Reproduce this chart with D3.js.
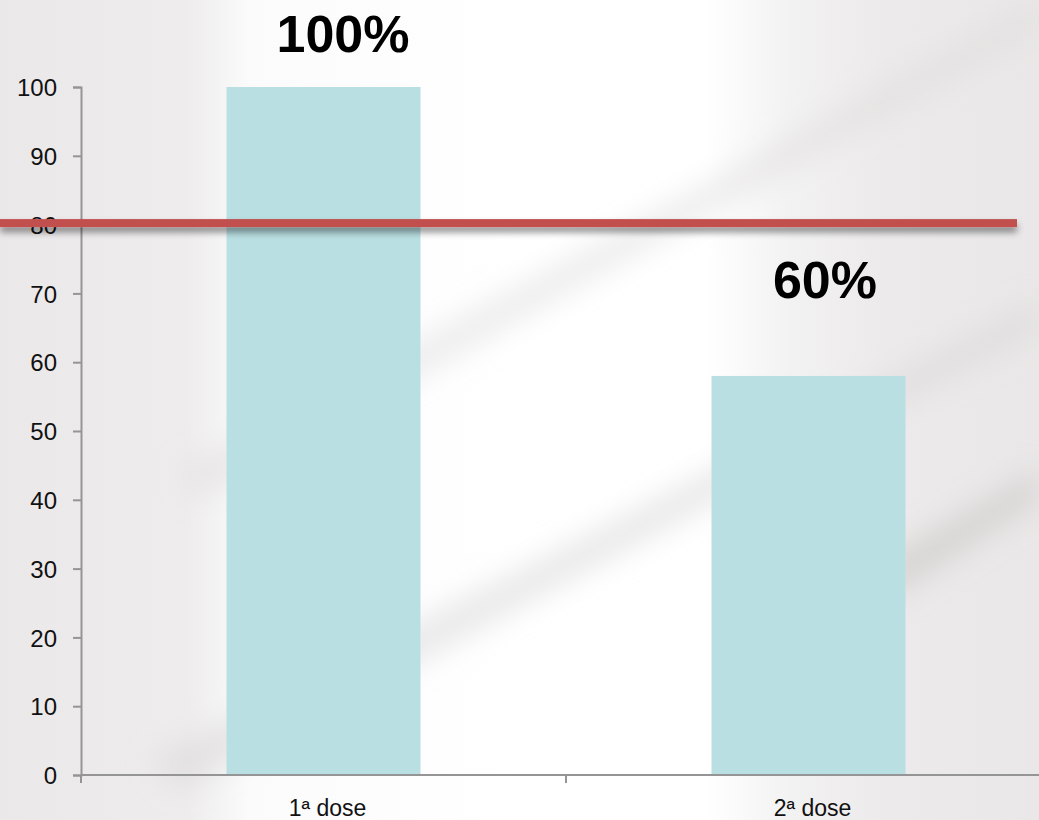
<!DOCTYPE html>
<html><head><meta charset="utf-8">
<script src="https://cdn.jsdelivr.net/npm/d3@7"></script>
<style>html,body{margin:0;padding:0;overflow:hidden;}svg{display:block;}</style>
</head><body>
<svg id="chart" width="1039" height="820"></svg>
<script>
const categories = ["1ª dose", "2ª dose"];
const values = [100, 58];
const valueLabels = ["100%", "60%"];
const yTicks = [0, 10, 20, 30, 40, 50, 60, 70, 80, 90, 100];
const targetValue = 80;

const W = 1039, H = 820;
const svg = d3.select("#chart");
const defs = svg.append("defs");
const FONT = "Liberation Sans, Arial, sans-serif";

// background
const bg = defs.append("linearGradient").attr("id", "bg").attr("x1", 0).attr("x2", 1).attr("y1", 0).attr("y2", 0);
[[0, "#ebe8e9"], [0.18, "#eeeced"], [0.24, "#fbfbfb"], [0.5, "#ffffff"], [0.68, "#ffffff"], [0.76, "#f3f2f2"], [0.85, "#eceaea"], [1, "#e9e7e7"]]
  .forEach(([o, c]) => bg.append("stop").attr("offset", o).attr("stop-color", c));
svg.append("rect").attr("width", W).attr("height", H).attr("fill", "url(#bg)");

const blur = defs.append("filter").attr("id", "blur").attr("x", "-20%").attr("y", "-20%").attr("width", "140%").attr("height", "140%");
blur.append("feGaussianBlur").attr("stdDeviation", 14);
const streaks = svg.append("g").attr("filter", "url(#blur)");
streaks.append("path").attr("d", "M150,760 L1039,300 L1039,330 L180,790 Z").attr("fill", "#d8d5d5").attr("opacity", 0.5);
streaks.append("path").attr("d", "M180,470 L1039,0 L1039,30 L200,500 Z").attr("fill", "#dcdada").attr("opacity", 0.45);
streaks.append("path").attr("d", "M880,560 L1039,470 L1039,500 L890,600 Z").attr("fill", "#c9c6c6").attr("opacity", 0.6);

const y = d3.scaleLinear().domain([0, 100]).range([775, 87]);
const x = d3.scaleBand().domain(categories).range([81, 1051]).paddingInner(0.6).paddingOuter(0.3);

// bars
svg.append("g").selectAll("rect").data(categories).join("rect")
  .attr("x", d => x(d))
  .attr("y", (d, i) => y(values[i]))
  .attr("width", x.bandwidth())
  .attr("height", (d, i) => y(0) - y(values[i]))
  .attr("fill", "#b9dfe2");

// y axis
const yAxis = svg.append("g").attr("transform", "translate(81,0)")
  .call(d3.axisLeft(y).tickValues(yTicks).tickSize(8).tickPadding(16));
yAxis.select(".domain").attr("stroke", "#959595").attr("stroke-width", 2);
yAxis.selectAll(".tick line").attr("stroke", "#959595").attr("stroke-width", 2);
yAxis.selectAll("text").attr("font-family", FONT).attr("font-size", 24).attr("fill", "#111").attr("dy", "0.36em");

// x axis
const xAxisG = svg.append("g").attr("transform", "translate(0,775)");
xAxisG.append("line").attr("x1", 81).attr("x2", W).attr("y1", 0).attr("y2", 0).attr("stroke", "#959595").attr("stroke-width", 2);
const boundaries = [81, (x(categories[0]) + x.bandwidth() + x(categories[1])) / 2];
xAxisG.selectAll(".xt").data(boundaries).join("line").attr("class", "xt")
  .attr("x1", d => d).attr("x2", d => d).attr("y1", 0).attr("y2", 8)
  .attr("stroke", "#959595").attr("stroke-width", 2);
xAxisG.selectAll(".xl").data(categories).join("text").attr("class", "xl")
  .attr("x", d => x(d) + x.bandwidth() / 2 + 4).attr("y", 41)
  .attr("text-anchor", "middle")
  .attr("font-family", FONT).attr("font-size", 23).attr("fill", "#111")
  .text(d => d);

// target line with shadow
const sh = defs.append("filter").attr("id", "shadow").attr("filterUnits", "userSpaceOnUse")
  .attr("x", -20).attr("y", 180).attr("width", 1100).attr("height", 90);
sh.append("feDropShadow").attr("dx", 0).attr("dy", 5).attr("stdDeviation", 3.5).attr("flood-color", "#000").attr("flood-opacity", 0.45);
svg.append("rect")
  .attr("x", 0).attr("width", 1017)
  .attr("y", y(targetValue) - 4 - 1.5).attr("height", 8)
  .attr("fill", "#c0504d")
  .attr("filter", "url(#shadow)");

// value labels
const labelY = [52, 298];
const labelX = [343, 825];
svg.selectAll(".vl").data(valueLabels).join("text").attr("class", "vl")
  .attr("x", (d, i) => labelX[i]).attr("y", (d, i) => labelY[i])
  .attr("text-anchor", "middle")
  .attr("font-family", FONT).attr("font-weight", "bold").attr("font-size", 52).attr("fill", "#000")
  .text(d => d);
</script>
</body></html>
